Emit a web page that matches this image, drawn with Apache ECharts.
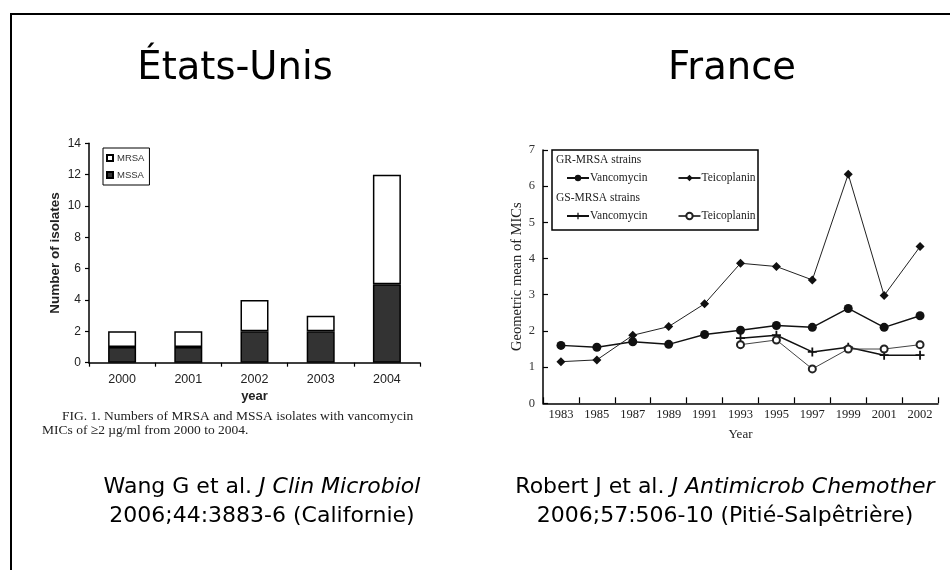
<!DOCTYPE html>
<html>
<head>
<meta charset="utf-8">
<script src="https://cdn.jsdelivr.net/npm/echarts@6/dist/echarts.min.js"></script>
<style>
html,body{margin:0;padding:0;background:#fff;}
#c{width:950px;height:570px;}
</style>
</head>
<body>
<div id="c"></div>
<script>
// ---- Left chart data (Wang G et al.) ----
var usYears = ['2000', '2001', '2002', '2003', '2004'];
var mssa = [1, 1, 2, 2, 5];
var mrsa = [1, 1, 2, 1, 7];
var usYTicks = [0, 2, 4, 6, 8, 10, 12, 14];

// ---- Right chart data (Robert J et al.) ----
var frYears = ['1983', '1985', '1987', '1989', '1991', '1993', '1995', '1997', '1999', '2001', '2002'];
var grVanco = [1.6, 1.55, 1.7, 1.63, 1.9, 2.02, 2.15, 2.1, 2.62, 2.1, 2.42];
var grTeico = [1.15, 1.2, 1.88, 2.12, 2.75, 3.87, 3.78, 3.41, 6.33, 2.98, 4.33];
var gsVanco = [null, null, null, null, null, 1.8, 1.88, 1.42, 1.55, 1.33, 1.33];
var gsTeico = [null, null, null, null, null, 1.62, 1.75, 0.95, 1.5, 1.5, 1.62];
var frYTicks = [0, 1, 2, 3, 4, 5, 6, 7];

var chart = echarts.init(document.getElementById('c'));
var sans = 'Liberation Sans, Arial, sans-serif';
var serif = 'Liberation Serif, Times New Roman, serif';
var title = 'DejaVu Sans, Verdana, sans-serif';
var plus = 'path://M4,0H6V4H10V6H6V10H4V6H0V4H4Z';
var shortName = function (n) { return n.replace(/^G[RS]-MRSA /, ''); };

var option = {
  backgroundColor: '#fff',
  animation: false,
  grid: [
    {left: 89, width: 331, top: 143.3, height: 219.4},
    {left: 543, width: 395, top: 150, height: 253.3}
  ],
  xAxis: [
    {
      gridIndex: 0, type: 'category', data: usYears,
      name: 'year', nameLocation: 'middle', nameGap: 27,
      nameTextStyle: {fontFamily: sans, fontWeight: 'bold', fontSize: 13, color: '#222'},
      axisLine: {lineStyle: {color: '#000', width: 1.5}},
      axisTick: {show: true, length: 4, lineStyle: {color: '#000', width: 1.2}},
      axisLabel: {fontFamily: sans, fontSize: 12.5, color: '#222', margin: 10}
    },
    {
      gridIndex: 1, type: 'category', data: frYears,
      name: 'Year', nameLocation: 'middle', nameGap: 25,
      nameTextStyle: {fontFamily: serif, fontSize: 13, color: '#222'},
      axisLine: {lineStyle: {color: '#000', width: 1.5}},
      axisTick: {show: true, inside: true, length: 6, lineStyle: {color: '#000', width: 1.2}},
      axisLabel: {fontFamily: serif, fontSize: 12.5, color: '#222', margin: 5}
    }
  ],
  yAxis: [
    {
      gridIndex: 0, type: 'value', min: usYTicks[0], max: usYTicks[usYTicks.length - 1], interval: 2,
      name: 'Number of isolates', nameLocation: 'middle', nameGap: 27,
      nameTextStyle: {fontFamily: sans, fontWeight: 'bold', fontSize: 13.5, color: '#222'},
      axisLine: {show: true, lineStyle: {color: '#000', width: 1.5}},
      axisTick: {show: true, length: 4, lineStyle: {color: '#000', width: 1.2}},
      axisLabel: {fontFamily: sans, fontSize: 12, color: '#222', margin: 8},
      splitLine: {show: false}
    },
    {
      gridIndex: 1, type: 'value', min: frYTicks[0], max: frYTicks[frYTicks.length - 1], interval: 1,
      name: 'Geometric mean of MICs', nameLocation: 'middle', nameGap: 18,
      nameTextStyle: {fontFamily: serif, fontSize: 14.5, color: '#222'},
      axisLine: {show: true, lineStyle: {color: '#000', width: 1.5}},
      axisTick: {show: true, inside: true, length: 5, lineStyle: {color: '#000', width: 1.2}},
      axisLabel: {fontFamily: serif, fontSize: 12.5, color: '#333', margin: 8},
      splitLine: {show: false}
    }
  ],
  legend: [
    {
      data: ['MRSA', 'MSSA'], orient: 'vertical', left: 103, top: 148,
      itemWidth: 6, itemHeight: 6, itemGap: 7, padding: [5, 5, 5, 3],
      borderColor: '#000', borderWidth: 1, icon: 'rect',
      textStyle: {fontFamily: sans, fontSize: 9.5, color: '#333', padding: [0, 0, 0, -1]}
    },
    {
      data: ['GR-MRSA Vancomycin', 'GR-MRSA Teicoplanin'], left: 566, top: 172,
      itemWidth: 22, itemHeight: 8, itemGap: 30, padding: 0,
      formatter: shortName,
      textStyle: {fontFamily: serif, fontSize: 11.5, color: '#222', padding: [0, 0, 0, -4]}
    },
    {
      data: ['GS-MRSA Vancomycin', 'GS-MRSA Teicoplanin'], left: 566, top: 210,
      itemWidth: 22, itemHeight: 8, itemGap: 30, padding: 0,
      formatter: shortName,
      textStyle: {fontFamily: serif, fontSize: 11.5, color: '#222', padding: [0, 0, 0, -4]}
    }
  ],
  series: [
    {
      name: 'MSSA', type: 'bar', stack: 'us', xAxisIndex: 0, yAxisIndex: 0,
      data: mssa, barWidth: 28,
      itemStyle: {color: '#333', borderColor: '#000', borderWidth: 1.5}
    },
    {
      name: 'MRSA', type: 'bar', stack: 'us', xAxisIndex: 0, yAxisIndex: 0,
      data: mrsa, barWidth: 28,
      itemStyle: {color: '#fff', borderColor: '#000', borderWidth: 1.5}
    },
    {
      name: 'GR-MRSA Vancomycin', type: 'line', xAxisIndex: 1, yAxisIndex: 1,
      data: grVanco, symbol: 'circle', symbolSize: 9,
      lineStyle: {color: '#111', width: 1.4}, itemStyle: {color: '#111'}
    },
    {
      name: 'GR-MRSA Teicoplanin', type: 'line', xAxisIndex: 1, yAxisIndex: 1,
      data: grTeico, symbol: 'diamond', symbolSize: 9,
      lineStyle: {color: '#222', width: 1}, itemStyle: {color: '#111'}
    },
    {
      name: 'GS-MRSA Vancomycin', type: 'line', xAxisIndex: 1, yAxisIndex: 1,
      data: gsVanco, symbol: plus, symbolSize: 9,
      lineStyle: {color: '#111', width: 1.5}, itemStyle: {color: '#111'}
    },
    {
      name: 'GS-MRSA Teicoplanin', type: 'line', xAxisIndex: 1, yAxisIndex: 1,
      data: gsTeico, symbol: 'emptyCircle', symbolSize: 7,
      lineStyle: {color: '#444', width: 1}, itemStyle: {color: '#222', borderWidth: 1}
    }
  ],
  graphic: [
    {type: 'line', shape: {x1: 11, y1: 14, x2: 950, y2: 14}, style: {stroke: '#000', lineWidth: 2}},
    {type: 'line', shape: {x1: 11, y1: 13, x2: 11, y2: 570}, style: {stroke: '#000', lineWidth: 2}},
    {type: 'text', x: 235, y: 69, style: {text: 'États-Unis', font: '38.5px ' + title, fill: '#000', textAlign: 'center', textVerticalAlign: 'middle'}},
    {type: 'text', x: 732, y: 69, style: {text: 'France', font: '38.5px ' + title, fill: '#000', textAlign: 'center', textVerticalAlign: 'middle'}},
    {type: 'text', x: 62, y: 416, style: {text: 'FIG. 1. Numbers of MRSA and MSSA isolates with vancomycin', font: '13.5px ' + serif, fill: '#222', textVerticalAlign: 'middle'}},
    {type: 'text', x: 42, y: 430, style: {text: 'MICs of \u22652 \u00b5g/ml from 2000 to 2004.', font: '13.5px ' + serif, fill: '#222', textVerticalAlign: 'middle'}},
    {type: 'rect', shape: {x: 552, y: 150, width: 206, height: 80}, style: {fill: 'none', stroke: '#000', lineWidth: 1.5}},
    {type: 'text', x: 556, y: 160, style: {text: 'GR-MRSA strains', font: '11.5px ' + serif, fill: '#222', textVerticalAlign: 'middle'}},
    {type: 'text', x: 556, y: 198, style: {text: 'GS-MRSA strains', font: '11.5px ' + serif, fill: '#222', textVerticalAlign: 'middle'}},
    {type: 'text', x: 262, y: 502, style: {
      text: '{n|Wang G et al. }{i|J Clin Microbiol}\n{n|2006;44:3883-6 (Californie)}',
      textAlign: 'center', textVerticalAlign: 'middle',
      rich: {n: {font: '22px ' + title, fill: '#000', lineHeight: 29}, i: {font: 'italic 22px ' + title, fill: '#000', lineHeight: 29}}
    }},
    {type: 'text', x: 725, y: 502, style: {
      text: '{n|Robert J et al. }{i|J Antimicrob Chemother}\n{n|2006;57:506-10 (Piti\u00e9-Salp\u00eatri\u00e8re)}',
      textAlign: 'center', textVerticalAlign: 'middle',
      rich: {n: {font: '22px ' + title, fill: '#000', lineHeight: 29}, i: {font: 'italic 22px ' + title, fill: '#000', lineHeight: 29}}
    }}
  ]
};
chart.setOption(option);
</script>
</body>
</html>
